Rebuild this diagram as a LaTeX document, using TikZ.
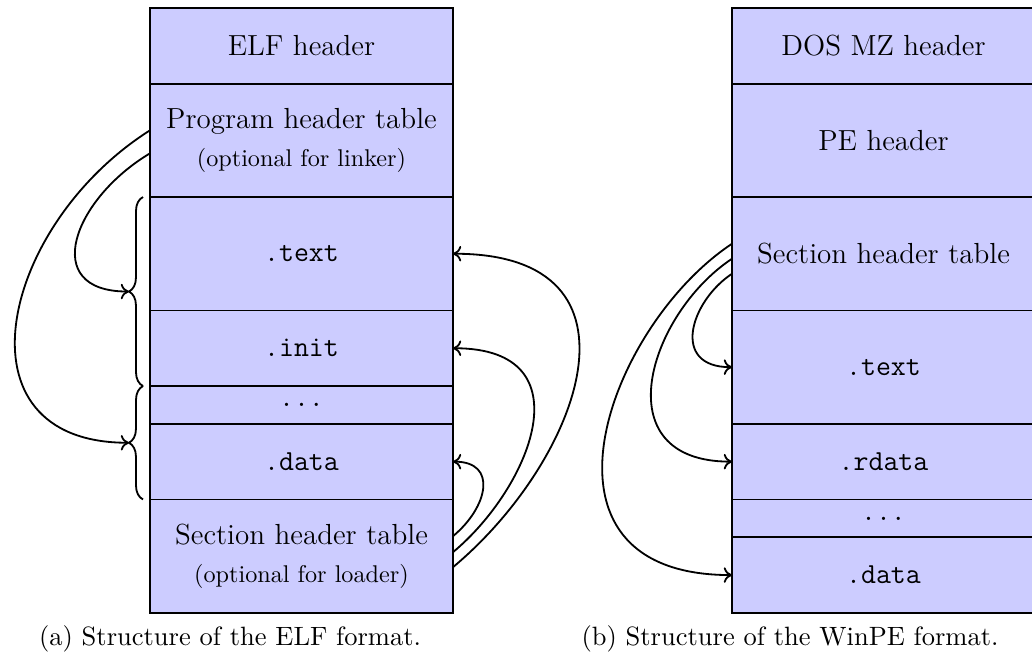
\documentclass[tikz,border=0pt]{standalone}
\usepackage{fontspec}
\usetikzlibrary{calc,decorations.pathreplacing,arrows.meta}

\tikzset{
  cell/.style={draw, fill=blue!20, line width=0.75pt,
    minimum width=125.2pt, minimum height=#1*15.62pt,
    inner sep=0pt, outer sep=0pt, anchor=north, align=center,
    font=\fontsize{12}{14.5}\selectfont},
  link/.style={-{To[length=3.4pt,width=6.4pt]}, line width=0.75pt},
  bracedeco/.style={decorate, line width=0.75pt,
    decoration={brace, amplitude=5.8pt}},
  caption/.style={anchor=base, font=\fontsize{10.95}{13.6}\selectfont},
}
\newcommand{\subnote}[1]{{\fontsize{10}{12}\selectfont #1}}

\begin{document}
\begin{tikzpicture}[x=0.4132pt, y=-0.4132pt]
\useasboundingbox (0,0) rectangle (1032,658);

% ---------- ELF ----------
\node[cell=2] (elfhdr) at (301.5,8) {ELF header};
\node[cell=3] (phdr) at (elfhdr.south) {Program header table\\[1pt]\subnote{(optional for linker)}};
\node[cell=3] (etext) at (phdr.south) {\texttt{.text}};
\node[cell=2] (einit) at (etext.south) {\texttt{.init}};
\node[cell=1] (edots) at (einit.south) {\texttt{...}};
\node[cell=2] (edata) at (edots.south) {\texttt{.data}};
\node[cell=3] (eshdr) at (edata.south) {Section header table\\[1pt]\subnote{(optional for loader)}};

% segments grouped by braces
\coordinate (bA) at ($(etext.north west)+(-7,0)$);
\coordinate (bB) at ($(einit.south west)+(-7,0)$);
\coordinate (bC) at ($(edata.south west)+(-7,0)$);
\draw[bracedeco] (bB) -- (bA);
\draw[bracedeco] (bC) -- (bB);
\coordinate (tipA) at ($(bA)!0.5!(bB)+(-14,0)$);
\coordinate (tipB) at ($(bB)!0.5!(bC)+(-14,0)$);

\coordinate (pA) at ($(phdr.west)+(0,-10)$);
\coordinate (pB) at ($(phdr.west)+(0,13)$);
\draw[link] (pA) .. controls ($(pA)+(-150,95)$) and ($(tipB)+(-178,0)$) .. (tipB);
\draw[link] (pB) .. controls ($(pB)+(-77,46)$) and ($(tipA)+(-90,0)$) .. (tipA);

% section header table to sections
\coordinate (sA) at ($(eshdr.east)+(0,-20)$);
\coordinate (sB) at ($(eshdr.east)+(0,-4)$);
\coordinate (sC) at ($(eshdr.east)+(0,11)$);
\draw[link] (sA) .. controls ($(sA)+(35,-29)$) and ($(edata.east)+(45,0)$) .. (edata.east);
\draw[link] (sB) .. controls ($(sB)+(77,-64)$) and ($(einit.east)+(135,0)$) .. (einit.east);
\draw[link] (sC) .. controls ($(sC)+(127,-106)$) and ($(etext.east)+(205,0)$) .. (etext.east);

\node[caption] (capa) at (230,645) {(a) Structure of the ELF format.};

% ---------- WinPE ----------
\node[cell=2] (doshdr) at (883.5,8) {DOS MZ header};
\node[cell=3] (pehdr) at (doshdr.south) {PE header};
\node[cell=3] (psht) at (pehdr.south) {Section header table};
\node[cell=3] (ptext) at (psht.south) {\texttt{.text}};
\node[cell=2] (prdata) at (ptext.south) {\texttt{.rdata}};
\node[cell=1] (pdots) at (prdata.south) {\texttt{...}};
\node[cell=2] (pdata) at (pdots.south) {\texttt{.data}};

\coordinate (qA) at ($(psht.west)+(0,-10)$);
\coordinate (qB) at ($(psht.west)+(0,5)$);
\coordinate (qC) at ($(psht.west)+(0,20)$);
\draw[link] (qC) .. controls ($(qC)+(-41.5,27.5)$) and ($(ptext.west)+(-62,0)$) .. (ptext.west);
\draw[link] (qB) .. controls ($(qB)+(-83,55)$) and ($(prdata.west)+(-130,0)$) .. (prdata.west);
\draw[link] (qA) .. controls ($(qA)+(-124.5,82.5)$) and ($(pdata.west)+(-215,0)$) .. (pdata.west);

\node[caption] (capb) at (790,645) {(b) Structure of the WinPE format.};
\end{tikzpicture}
\end{document}
